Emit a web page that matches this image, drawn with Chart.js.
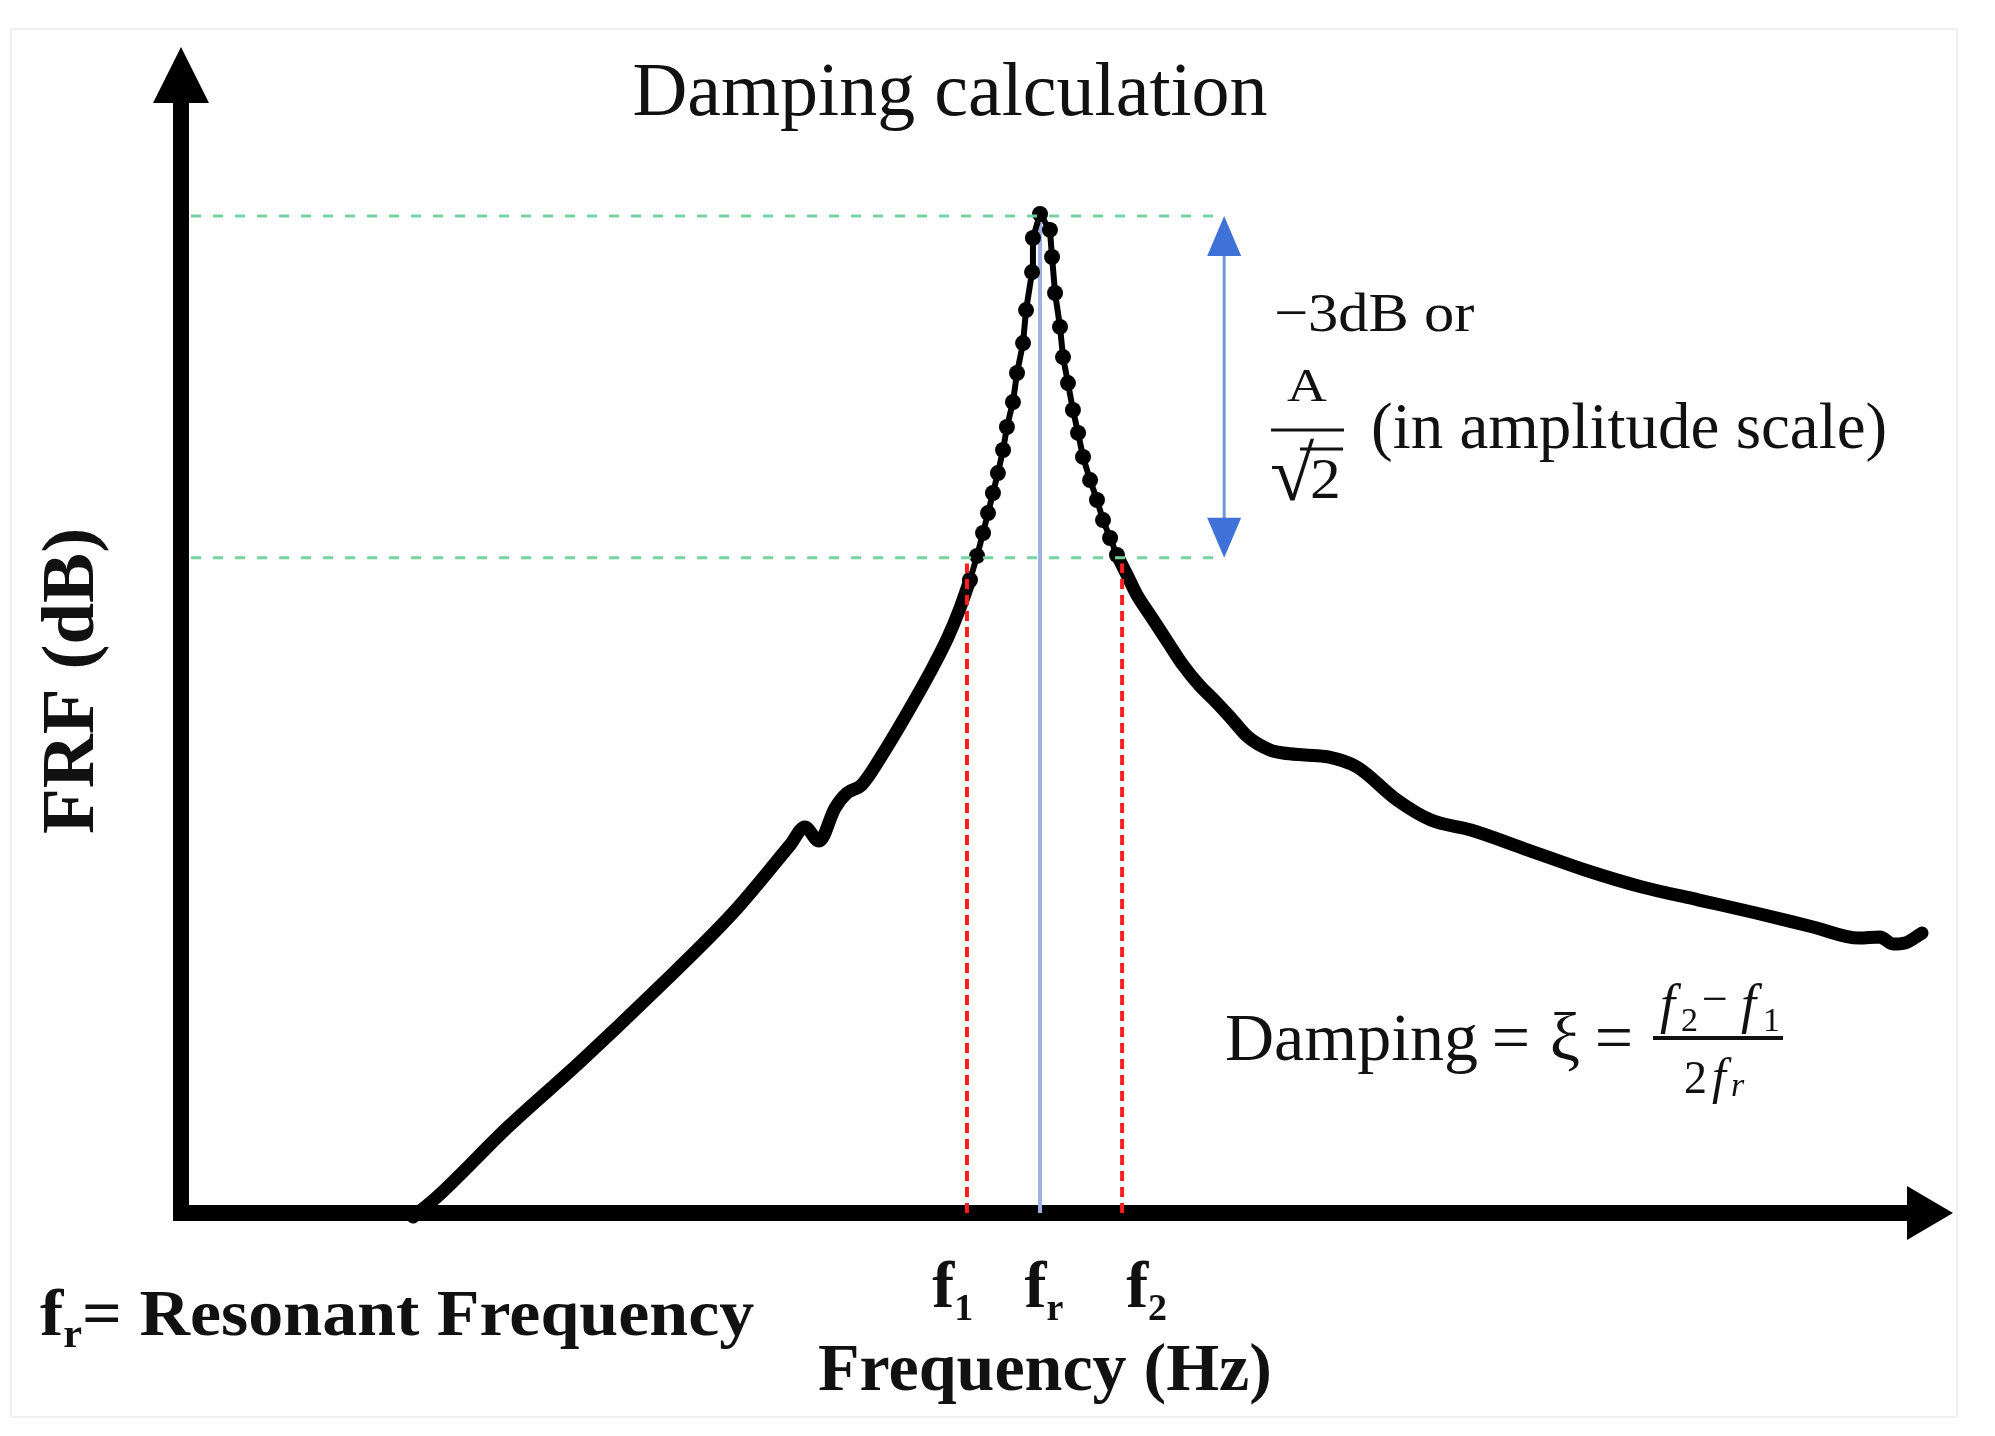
<!DOCTYPE html>
<html>
<head>
<meta charset="utf-8">
<title>Damping calculation</title>
<script src="https://cdn.jsdelivr.net/npm/chart.js@4.4.0/dist/chart.umd.min.js"></script>
<style>
  html, body { margin: 0; padding: 0; background: #fff; }
  #wrap { width: 1995px; height: 1436px; position: relative; }
</style>
</head>
<body>
<div id="wrap"><canvas id="frfChart"></canvas></div>
<script>
// schematic FRF, arbitrary units: frequency 0..100, level 0..100
const freqRise = [12.95, 14.36, 18.37, 22.39, 26.68, 31.03, 34.26, 35.10, 35.90, 36.80, 37.48, 38.30, 39.57, 41.21, 42.34, 43.19, 43.87, 44.43];
const frfRise  = [-0.34, 1.46, 7.46, 12.95, 19.13, 25.73, 31.56, 33.10, 31.90, 34.73, 36.02, 36.70, 39.54, 43.74, 46.83, 49.40, 51.89, 54.29];

const freqPeak = [44.43, 44.83, 45.17, 45.45, 45.73, 46.01, 46.30, 46.52, 46.86, 47.09, 47.43, 47.60, 47.94, 47.99, 48.39, 48.95, 49.07, 49.24, 49.52, 49.69, 49.97, 50.25, 50.54, 50.82, 51.22, 51.61, 51.95, 52.35, 52.74];
const frfPeak  = [54.29, 56.35, 58.32, 60.03, 61.75, 63.46, 65.44, 67.41, 69.55, 72.04, 74.61, 77.44, 80.70, 83.62, 85.68, 84.31, 81.99, 78.90, 75.99, 73.41, 71.18, 68.87, 66.90, 64.84, 62.86, 61.15, 59.43, 57.89, 56.43];

const freqTail = [52.74, 53.31, 53.87, 54.61, 55.57, 56.47, 57.43, 58.23, 59.13, 60.15, 61.39, 62.13, 63.37, 64.67, 66.31, 68.57, 70.49, 72.75, 75.98, 79.20, 82.42, 85.64, 88.86, 92.09, 94.69, 95.87, 96.61, 97.29, 98.25];
const frfTail  = [56.43, 54.72, 53.00, 51.29, 49.06, 47.00, 45.20, 44.00, 42.54, 40.82, 39.71, 39.45, 39.28, 39.11, 38.25, 35.42, 33.70, 32.85, 31.13, 29.42, 27.96, 26.84, 25.73, 24.53, 23.58, 23.67, 23.07, 23.16, 24.01];

// half power points and resonance
const markerFreqs = [44.26, 48.39, 53.03];
const markerSubs = ['1', 'r', '2'];
const peakLevel = 85.5;
const halfPowerLevel = 56.2;
const guideStart = 0.4;
const guideEnd = 58.8;

const SERIF = '"Liberation Serif", "DejaVu Serif", serif';

const pts = (xs, ys) => xs.map((x, i) => ({ x: x, y: ys[i] }));

function drawRuns(ctx, runs, x, y, align) {
    let total = 0;
    runs.forEach(r => {
        ctx.font = r.font;
        total += ctx.measureText(r.t).width * (r.sx || 1);
    });
    let cx = align === 'center' ? x - total / 2 : x;
    ctx.textAlign = 'left';
    ctx.textBaseline = 'alphabetic';
    runs.forEach(r => {
        ctx.font = r.font;
        const w = ctx.measureText(r.t).width * (r.sx || 1);
        ctx.save();
        ctx.translate(cx, y + (r.dy || 0));
        ctx.scale(r.sx || 1, r.sy || 1);
        ctx.fillText(r.t, 0, 0);
        ctx.restore();
        cx += w;
    });
}

// one glyph group at a fixed left position
const put = (ctx, t, font, x, y, sx, sy) => drawRuns(ctx, [{ t: t, font: font, sx: sx, sy: sy }], x, y, 'left');

function tri(ctx, a, b, c) {
    ctx.beginPath();
    ctx.moveTo(a[0], a[1]);
    ctx.lineTo(b[0], b[1]);
    ctx.lineTo(c[0], c[1]);
    ctx.closePath();
    ctx.fill();
}

const annotate = {
    id: 'annotate',
    beforeDatasetsDraw(chart) {
        const { ctx, chartArea: a, scales: { x, y } } = chart;
        const ax = x.getPixelForValue(0) - 3;
        const ay = y.getPixelForValue(0);
        ctx.save();
        // faint frame of the figure
        ctx.strokeStyle = '#f0f0f0';
        ctx.lineWidth = 2;
        ctx.strokeRect(11, 29, 1946, 1388);
        ctx.fillStyle = '#000';
        ctx.fillRect(ax - 8, a.top + 54, 16, ay + 8 - (a.top + 54));
        ctx.fillRect(ax - 8, ay - 8, a.right - 46 - (ax - 8), 16);
        tri(ctx, [ax - 28, a.top + 56], [ax, a.top], [ax + 28, a.top + 56]);
        tri(ctx, [a.right - 46, ay - 27], [a.right, ay], [a.right - 46, ay + 27]);
        ctx.restore();
    },
    afterDatasetsDraw(chart) {
        const { ctx, scales: { x, y } } = chart;
        // -3 dB arrow
        const bx = x.getPixelForValue(guideEnd);
        const top = y.getPixelForValue(peakLevel);
        const bot = y.getPixelForValue(halfPowerLevel);
        ctx.save();
        ctx.strokeStyle = '#6f95dc';
        ctx.lineWidth = 3;
        ctx.beginPath();
        ctx.moveTo(bx, top + 30);
        ctx.lineTo(bx, bot - 30);
        ctx.stroke();
        ctx.fillStyle = '#3f72d6';
        tri(ctx, [bx - 17, top + 40], [bx, top], [bx + 17, top + 40]);
        tri(ctx, [bx - 17, bot - 40], [bx, bot], [bx + 17, bot - 40]);
        ctx.restore();
    },
    afterDraw(chart) {
        const { ctx, scales: { x } } = chart;
        ctx.save();
        ctx.fillStyle = '#111';

        drawRuns(ctx, [{ t: 'Damping calculation', font: '76px ' + SERIF }], 950, 115, 'center');

        // y axis title
        ctx.save();
        ctx.translate(93, 681);
        ctx.rotate(-Math.PI / 2);
        drawRuns(ctx, [{ t: 'FRF (dB)', font: 'bold 75px ' + SERIF }], 0, 0, 'center');
        ctx.restore();

        // f1, fr, f2 below the axis
        const frPx = x.getPixelForValue(markerFreqs[1]);
        markerFreqs.forEach((f, i) => {
            const px = frPx + (x.getPixelForValue(f) - frPx) * 1.25 + 4;
            drawRuns(ctx, [
                { t: 'f', font: 'bold 66px ' + SERIF },
                { t: markerSubs[i], font: 'bold 38px ' + SERIF, dy: 13 }
            ], px, 1307, 'center');
        });
        drawRuns(ctx, [{ t: 'Frequency (Hz)', font: 'bold 68px ' + SERIF }], 1045, 1390, 'center');

        drawRuns(ctx, [
            { t: 'f', font: 'bold 66px ' + SERIF, sx: 1.06 },
            { t: 'r', font: 'bold 40px ' + SERIF, dy: 12, sx: 1.06 },
            { t: '= Resonant Frequency', font: 'bold 66px ' + SERIF, sx: 1.06 }
        ], 40, 1335, 'left');

        // -3dB or A/sqrt(2)
        put(ctx, '\u22123dB or', '55px ' + SERIF, 1274, 331, 1.1);
        drawRuns(ctx, [{ t: 'A', font: '46px ' + SERIF, sx: 1.2 }], 1307, 401, 'center');
        put(ctx, '\u221A', '62px ' + SERIF, 1270, 500, 1.3, 1.25);
        put(ctx, '2', '56px ' + SERIF, 1310, 498, 1.1);
        put(ctx, '(in amplitude scale)', '65px ' + SERIF, 1371, 448);
        ctx.strokeStyle = '#111';
        ctx.lineWidth = 3;
        ctx.beginPath();
        ctx.moveTo(1271, 430); ctx.lineTo(1344, 430);
        ctx.moveTo(1300, 449); ctx.lineTo(1343, 449);
        ctx.stroke();

        // damping formula
        const f68 = '68px ' + SERIF;
        put(ctx, 'Damping', f68, 1225, 1060);
        drawRuns(ctx, [{ t: '=', font: f68 }], 1511, 1060, 'center');
        drawRuns(ctx, [{ t: '\u03BE', font: f68 }], 1565, 1060, 'center');
        drawRuns(ctx, [{ t: '=', font: f68 }], 1614, 1060, 'center');
        ctx.lineWidth = 4;
        ctx.beginPath();
        ctx.moveTo(1653, 1038); ctx.lineTo(1783, 1038);
        ctx.stroke();
        const it54 = 'italic 54px ' + SERIF;
        put(ctx, 'f', it54, 1660, 1022);
        put(ctx, '2', '34px ' + SERIF, 1681, 1031);
        put(ctx, '\u2212', '46px ' + SERIF, 1702, 1014);
        put(ctx, 'f', it54, 1741, 1022);
        put(ctx, '1', '34px ' + SERIF, 1763, 1031);
        put(ctx, '2', '46px ' + SERIF, 1684, 1093);
        put(ctx, 'f', 'italic 50px ' + SERIF, 1712, 1093);
        put(ctx, 'r', 'italic 34px ' + SERIF, 1731, 1096);
        ctx.restore();
    }
};

const thick = { showLine: true, borderColor: '#000', borderWidth: 13, pointRadius: 0,
    cubicInterpolationMode: 'monotone', borderJoinStyle: 'round', borderCapStyle: 'round', clip: false, order: 2 };

const chart = new Chart(document.getElementById('frfChart'), {
    type: 'scatter',
    data: {
        datasets: [
            Object.assign({ label: 'FRF rise', data: pts(freqRise, frfRise) }, thick),
            { label: 'FRF peak', data: pts(freqPeak, frfPeak), showLine: true, borderColor: '#000', borderWidth: 6,
              pointRadius: 8, pointBackgroundColor: '#000', pointBorderWidth: 0, clip: false, order: 2 },
            Object.assign({ label: 'FRF tail', data: pts(freqTail, frfTail) }, thick),
            { label: 'fr', data: [{ x: markerFreqs[1], y: 0 }, { x: markerFreqs[1], y: peakLevel - 0.6 }],
              showLine: true, borderColor: '#a0b2e2', borderWidth: 4, pointRadius: 0, order: 3 },
            { label: 'f1', data: [{ x: markerFreqs[0], y: 0 }, { x: markerFreqs[0], y: halfPowerLevel - 0.5 }],
              showLine: true, borderColor: '#ff1f1f', borderWidth: 4, borderDash: [10, 6], pointRadius: 0, order: 1 },
            { label: 'f2', data: [{ x: markerFreqs[2], y: 0 }, { x: markerFreqs[2], y: halfPowerLevel - 0.5 }],
              showLine: true, borderColor: '#ff1f1f', borderWidth: 4, borderDash: [10, 6], pointRadius: 0, order: 1 },
            { label: 'peak level', data: [{ x: guideStart, y: peakLevel }, { x: guideEnd, y: peakLevel }],
              showLine: true, borderColor: '#74d39e', borderWidth: 3, borderDash: [10, 12], pointRadius: 0, order: 1 },
            { label: 'half power level', data: [{ x: guideStart, y: halfPowerLevel }, { x: guideEnd, y: halfPowerLevel }],
              showLine: true, borderColor: '#74d39e', borderWidth: 3, borderDash: [10, 12], pointRadius: 0, order: 1 }
        ]
    },
    options: {
        responsive: true,
        maintainAspectRatio: false,
        animation: false,
        layout: { padding: { left: 184, right: 42, top: 47, bottom: 223 } },
        plugins: { legend: { display: false }, tooltip: { enabled: false } },
        scales: {
            x: { type: 'linear', min: 0, max: 100, display: false },
            y: { type: 'linear', min: 0, max: 100, display: false }
        }
    },
    plugins: [annotate]
});
</script>
</body>
</html>
